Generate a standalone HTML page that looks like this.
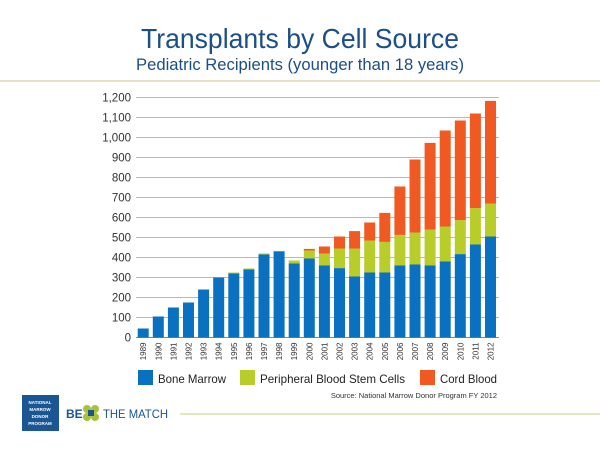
<!DOCTYPE html>
<html><head><meta charset="utf-8"><style>
body{margin:0;width:600px;height:450px;background:#fff;overflow:hidden;font-family:"Liberation Sans",sans-serif}
svg{display:block}
</style></head><body>
<svg width="600" height="450">
<text x="141" y="48" textLength="318" lengthAdjust="spacingAndGlyphs" font-size="28" fill="#1b4f86">Transplants by Cell Source</text>
<text x="136" y="70" textLength="328" lengthAdjust="spacingAndGlyphs" font-size="17" fill="#1b4f86">Pediatric Recipients (younger than 18 years)</text>
<line x1="0" y1="81" x2="600" y2="81" stroke="#d9cf9c" stroke-width="1.2"/>
<g id="grid"></g><g id="bars"></g><g id="xlabels"></g>
<g>
<rect x="138" y="370" width="15" height="15" fill="#0a70c0"/>
<text x="158" y="383" font-size="12" textLength="68" lengthAdjust="spacingAndGlyphs" fill="#222">Bone Marrow</text>
<rect x="240" y="370" width="15" height="15" fill="#b8cc2a"/>
<text x="260" y="383" font-size="12" textLength="145" lengthAdjust="spacingAndGlyphs" fill="#222">Peripheral Blood Stem Cells</text>
<rect x="420" y="370" width="15" height="15" fill="#f05a22"/>
<text x="440" y="383" font-size="12" textLength="57" lengthAdjust="spacingAndGlyphs" fill="#222">Cord Blood</text>
</g>
<text x="497" y="398" text-anchor="end" font-size="7.5" fill="#333">Source: National Marrow Donor Program FY 2012</text>
<g>
<rect x="22" y="395" width="37" height="36" fill="#1a5693"/>
<text x="40" y="404" text-anchor="middle" font-size="4.5" fill="#fff" font-weight="bold">NATIONAL</text>
<text x="40" y="411" text-anchor="middle" font-size="4.5" fill="#fff" font-weight="bold">MARROW</text>
<text x="40" y="418" text-anchor="middle" font-size="4.5" fill="#fff" font-weight="bold">DONOR</text>
<text x="40" y="425" text-anchor="middle" font-size="4.5" fill="#fff" font-weight="bold">PROGRAM</text>
</g>
<g>
<text x="66" y="418" font-size="12" font-weight="bold" fill="#1a5693">BE</text>
<circle cx="87" cy="409" r="4" fill="#a9c23a"/><circle cx="95" cy="409" r="4" fill="#a9c23a"/>
<circle cx="87" cy="417" r="4" fill="#a9c23a"/><circle cx="95" cy="417" r="4" fill="#a9c23a"/>
<rect x="88" y="410" width="6" height="6" fill="#1a5693"/>
<text x="103" y="418" font-size="12" fill="#1a5693" textLength="65" lengthAdjust="spacingAndGlyphs">THE MATCH</text>
</g>
<line x1="180" y1="414" x2="600" y2="414" stroke="#c9cf7a" stroke-width="1"/>
</svg>
<script>
const years=['1989','1990','1991','1992','1993','1994','1995','1996','1997','1998','1999','2000','2001','2002','2003','2004','2005','2006','2007','2008','2009','2010','2011','2012'];
const boneMarrow=[45,105,150,175,240,300,320,340,415,430,370,395,360,347,305,325,325,360,365,360,380,417,465,505];
const pbsc=[0,0,0,0,0,0,5,5,5,3,15,40,60,98,140,160,153,153,160,180,175,170,182,165];
const cordBlood=[0,0,0,0,0,0,0,0,0,0,0,8,35,60,87,90,145,242,365,433,480,498,473,513];
const yTicks=[0,100,200,300,400,500,600,700,800,900,1000,1100,1200];
const NS='http://www.w3.org/2000/svg';
const y0=337.5,yScale=0.2,x0=137.7,step=15.1,bw=11;
function yPos(v){return y0-v*yScale;}
function xPos(i){return x0+i*step;}
const grid=document.getElementById('grid'),bars=document.getElementById('bars'),xl=document.getElementById('xlabels');
function mk(tag,attrs,parent){const e=document.createElementNS(NS,tag);for(const k in attrs)e.setAttribute(k,attrs[k]);parent.appendChild(e);return e;}
yTicks.forEach(v=>{
 if(v>0){const l=mk('line',{x1:136,x2:499,y1:yPos(v),y2:yPos(v),stroke:'#b8b8c0','stroke-width':1},grid);
 
 }
 const t=mk('text',{x:131,y:yPos(v)+4,'text-anchor':'end','font-size':11.5,fill:'#333'},grid);
 t.textContent=v.toLocaleString('en-US');
 
 
});
const ax=mk('line',{x1:136,x2:499,y1:y0,y2:y0,stroke:'#888','stroke-width':1},grid);


years.forEach((yr,i)=>{
 const x=xPos(i);
 const series=[[boneMarrow[i],'#0a70c0','bone-marrow'],[pbsc[i],'#b8cc2a','pbsc'],[cordBlood[i],'#f05a22','cord-blood']];
 let base=0;
 series.forEach(([v,c,n])=>{
  if(v>0){const r=mk('rect',{x:x,y:yPos(base+v),width:bw,height:v*yScale,fill:c},bars);
  
  }
  base+=v;
 });
 const t=mk('text',{x:0,y:0,'text-anchor':'end','font-size':8,fill:'#333',transform:`translate(${x+bw/2+3},${y0+5}) rotate(-90)`},xl);
 t.textContent=yr;
 
 
});
</script>
</body></html>
